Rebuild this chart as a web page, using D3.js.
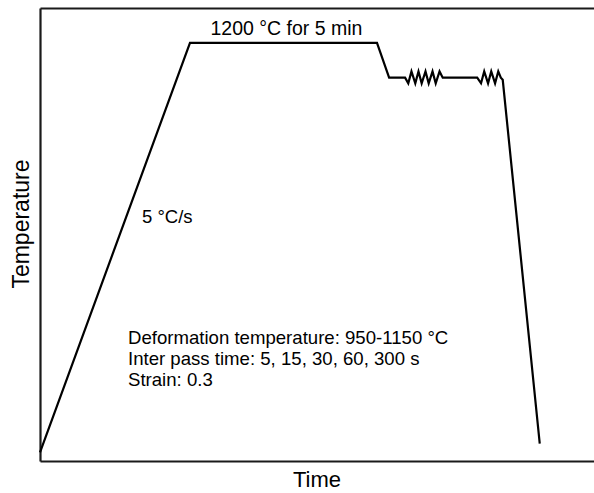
<!DOCTYPE html>
<html>
<head>
<meta charset="utf-8">
<script src="https://cdn.jsdelivr.net/npm/d3@7"></script>
<style>
  html, body { margin: 0; padding: 0; background: #fff; }
  svg { display: block; font-family: "Liberation Sans", Arial, sans-serif; }
</style>
</head>
<body>
<svg id="chart" width="594" height="493"></svg>
<script>
// Thermal schedule: time (s) and temperature (°C) of each vertex of the path
const timeS = [0, 235, 528, 547, 572,
  577, 582, 588, 593, 598, 604, 609, 615, 620, 626, 631,
  685, 691, 696, 702, 707, 713, 718, 722, 725, 783];
const tempC = [25, 1200, 1200, 1100, 1100,
  1084, 1118, 1084, 1118, 1084, 1118, 1084, 1118, 1084, 1118, 1100,
  1100, 1084, 1118, 1084, 1118, 1084, 1118, 1100, 1094, 50];

const axisLabels = { x: "Time", y: "Temperature" };
const holdLabel = "1200 °C for 5 min";
const rateLabel = "5 °C/s";
const noteLines = [
  "Deformation temperature: 950-1150 °C",
  "Inter pass time: 5, 15, 30, 60, 300 s",
  "Strain: 0.3"
];

const svg = d3.select("#chart");
const W = 594, H = 493;
const margin = { left: 40, top: 8, right: 0, bottom: 32 };

const x = d3.scaleLinear().domain([0, 868]).range([margin.left, W - margin.right]);
const y = d3.scaleLinear().domain([0, 1300]).range([H - margin.bottom, margin.top]);

// Frame: left, bottom and top edges without ticks
const axisStroke = "#1a1a1a";
svg.append("g")
  .attr("transform", `translate(0,${y(0)})`)
  .call(d3.axisBottom(x).tickValues([]).tickSizeOuter(0))
  .call(g => g.select(".domain").attr("stroke", axisStroke).attr("stroke-width", 2.2));
svg.append("g")
  .attr("transform", `translate(0,${y(1300)})`)
  .call(d3.axisTop(x).tickValues([]).tickSizeOuter(0))
  .call(g => g.select(".domain").attr("stroke", axisStroke).attr("stroke-width", 2.2));
svg.append("g")
  .attr("transform", `translate(${x(0)},0)`)
  .call(d3.axisLeft(y).tickValues([]).tickSizeOuter(0))
  .call(g => g.select(".domain").attr("stroke", axisStroke).attr("stroke-width", 2.2));

// Temperature path
const pts = timeS.map((t, i) => [t, tempC[i]]);
svg.append("path")
  .datum(pts)
  .attr("fill", "none")
  .attr("stroke", "#000")
  .attr("stroke-width", 2.2)
  .attr("stroke-linejoin", "miter")
  .attr("d", d3.line().x(d => x(d[0])).y(d => y(d[1])));

// Labels
svg.append("text")
  .attr("x", x((timeS[1] + timeS[2]) / 2) + 3)
  .attr("y", y(tempC[1]) - 8)
  .attr("text-anchor", "middle")
  .attr("font-size", 19.5)
  .text(holdLabel);

svg.append("text")
  .attr("x", 142)
  .attr("y", 223)
  .attr("font-size", 18.5)
  .text(rateLabel);

svg.append("text")
  .attr("x", x(434))
  .attr("y", H - 6)
  .attr("text-anchor", "middle")
  .attr("font-size", 22)
  .text(axisLabels.x);

svg.append("text")
  .attr("transform", `translate(29,${y(680)}) rotate(-90)`)
  .attr("text-anchor", "middle")
  .attr("font-size", 23)
  .text(axisLabels.y);

svg.append("g")
  .selectAll("text")
  .data(noteLines)
  .join("text")
  .attr("x", 128)
  .attr("y", (d, i) => 344 + i * 21)
  .attr("font-size", 18.6)
  .text(d => d);
</script>
</body>
</html>
